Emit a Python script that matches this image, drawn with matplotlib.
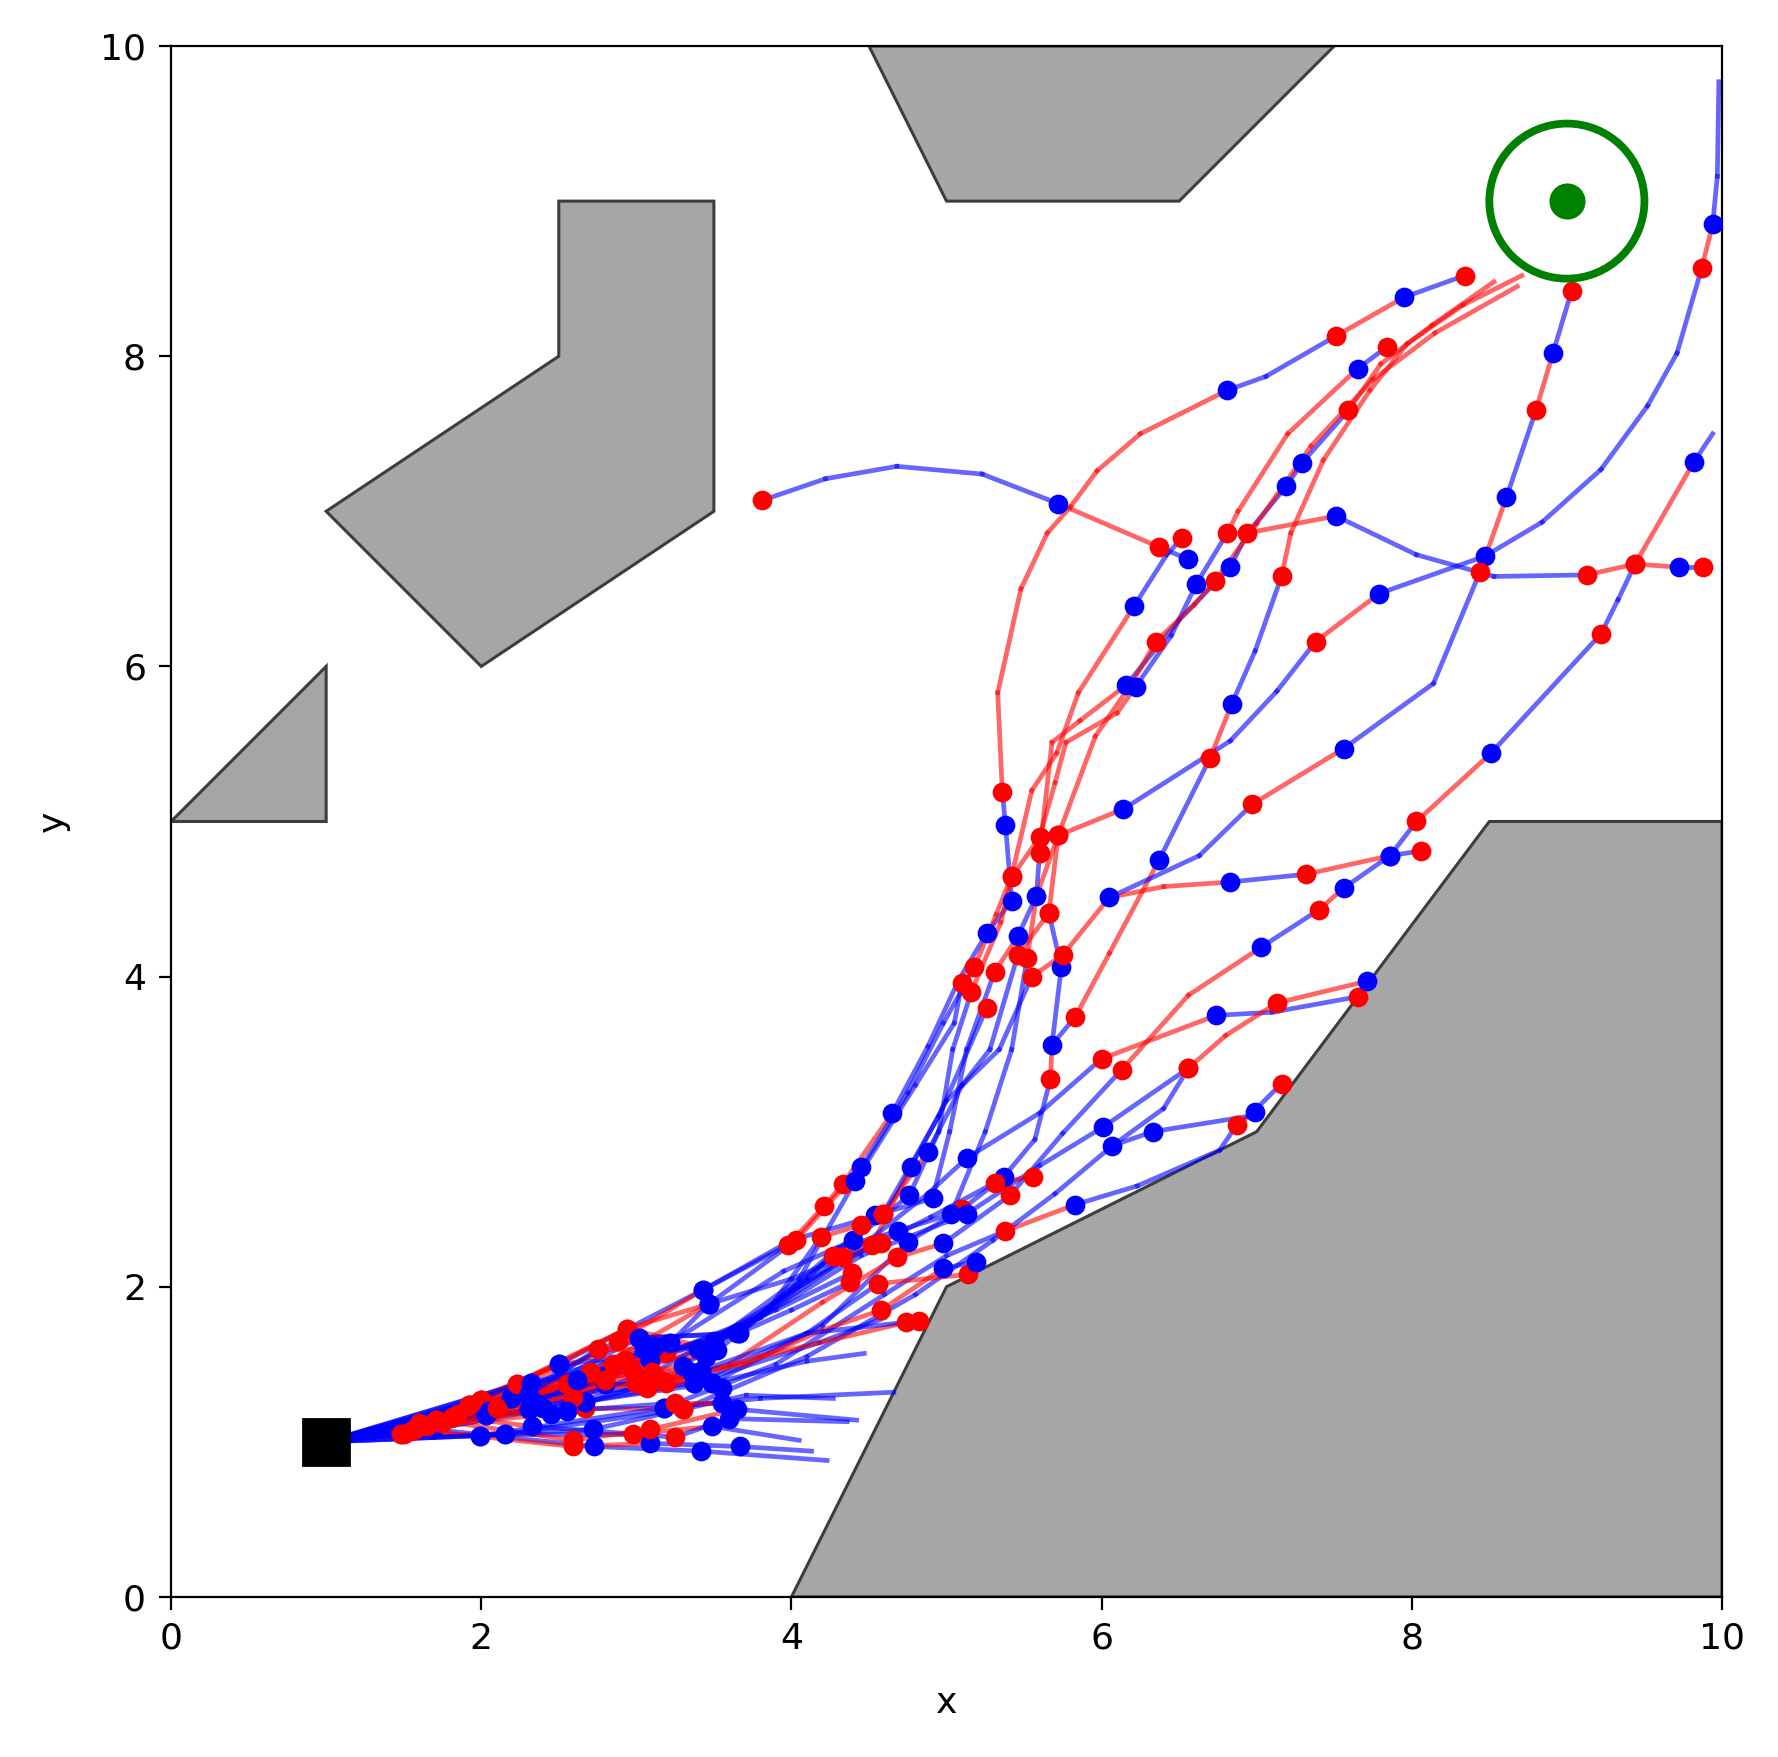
import matplotlib
matplotlib.use("Agg")
import matplotlib.pyplot as plt
from matplotlib.patches import Polygon, Circle

# ---------------- data ----------------
obstacle_top = [(4.5, 10), (5, 9), (6.5, 9), (7.5, 10)]
obstacle_hook = [(2.5, 9), (3.5, 9), (3.5, 7), (2, 6), (1, 7), (2.5, 8)]
obstacle_tri = [(0, 5), (1, 6), (1, 5)]
obstacle_low = [(4, 0), (5, 2), (7, 3), (8.5, 5), (10, 5), (10, 0)]

start_xy = (1.0, 1.0)
goal_xy = (9.0, 9.0)
goal_radius = 0.5

# each point: (x, y, code) ; code[0] = dot colour ('r','b','-' none), code[1] = colour of next segment
f1 = [(1, 1, '-b'), (1.69, 1.08, 'bb'), (2.73, 0.97, 'bb'), (3.42, 0.94, 'bb'), (4.23, 0.88, '-.')]
f2 = [(1, 1, '-b'), (1.57, 1.08, 'rr'), (2.59, 0.97, 'rr'), (3.09, 0.99, 'bb'), (3.67, 0.97, 'bb'), (4.13, 0.94, '-.')]
f3 = [(1, 1, '-b'), (1.48, 1.05, 'rr'), (2.15, 1.05, 'bb'), (2.98, 1.05, 'rr'), (3.49, 1.10, 'bb'), (4.05, 1.01, '-.')]
f4 = [(1, 1, '-b'), (1.82, 1.16, 'rr'), (2.33, 1.10, 'bb'), (3.25, 1.03, 'rb'), (3.60, 1.15, 'bb'), (4.36, 1.13, '-.')]
f5 = [(1, 1, '-b'), (1.71, 1.14, 'rr'), (2.59, 1.01, 'rr'), (3.09, 1.08, 'rr'), (3.65, 1.21, 'bb'), (4.42, 1.14, '-.')]
f6 = [(1, 1, '-b'), (1.99, 1.04, 'bb'), (2.72, 1.08, 'bb'), (3.30, 1.21, 'rb'), (3.71, 1.30, '-b'), (4.27, 1.28, '-.')]
f7 = [(1, 1, '-b'), (2.03, 1.17, 'bb'), (2.67, 1.22, 'rr'), (3.18, 1.22, 'bb'), (3.80, 1.28, '-b'), (4.66, 1.32, '-.')]
f8 = [(1, 1, '-b'), (1.92, 1.24, 'rr'), (2.80, 1.37, 'bb'), (3.49, 1.38, 'bb'), (4.10, 1.52, '-b'), (4.47, 1.57, '-.')]
f9 = [(1, 1, '-b'), (2.0, 1.27, 'rr'), (2.67, 1.26, 'bb'), (3.37, 1.38, 'bb'), (4.18, 1.64, '-b'), (4.60, 1.80, '-.')]

p01 = [(1, 1, '-b'), (1.57, 1.08, 'rr'), (2.50, 1.50, 'bb'), (3.43, 1.98, 'bb'), (3.98, 2.27, 'rr'),
       (4.21, 2.52, 'rr'), (4.33, 2.66, 'rr'), (4.65, 3.12, 'bb'), (4.88, 3.55, '-b'), (5.08, 3.98, '-b'),
       (5.26, 4.28, 'bb'), (5.42, 4.49, 'bb'), (5.38, 4.98, 'bb'), (5.36, 5.19, 'rr'), (5.33, 5.83, '-r'),
       (5.48, 6.50, '-r'), (5.65, 6.86, '-r'), (5.80, 7.03, '-r'), (5.97, 7.26, '-r'), (6.25, 7.50, '-r'),
       (6.81, 7.78, 'bb'), (7.06, 7.87, '-b'), (7.51, 8.13, 'rr'), (7.95, 8.38, 'bb'), (8.34, 8.52, 'r.')]
p02 = [(5.72, 7.05, 'bb'), (5.23, 7.24, '-b'), (4.68, 7.29, '-b'), (4.22, 7.21, '-b'), (3.81, 7.07, 'r.')]
p03 = [(5.72, 7.05, '-r'), (6.37, 6.77, 'rb'), (6.56, 6.69, 'b.')]
p04 = [(1, 1, '-b'), (1.71, 1.14, 'rr'), (2.70, 1.45, 'rr'), (3.47, 1.89, 'bb'), (4.03, 2.30, 'rr'),
       (4.45, 2.77, 'bb'), (4.75, 3.25, '-b'), (4.98, 3.70, '-b'), (5.18, 4.06, 'rr'), (5.32, 4.40, '-r'),
       (5.42, 4.65, 'rr'), (5.55, 5.20, '-r'), (5.71, 5.44, '-r'), (5.85, 5.83, '-r'), (6.21, 6.39, 'bb'),
       (6.42, 6.72, '-b'), (6.52, 6.83, 'r.')]
p05 = [(1, 1, '-b'), (1.48, 1.05, 'rr'), (2.32, 1.38, 'bb'), (3.22, 1.64, 'bb'), (3.95, 2.10, '-b'),
       (4.40, 2.30, 'bb'), (4.76, 2.59, 'bb'), (4.95, 3.00, '-b'), (5.04, 3.53, '-b'), (5.16, 3.90, 'rr'),
       (5.35, 4.35, '-r'), (5.42, 4.64, 'rr'), (5.60, 4.90, 'rr'), (5.70, 5.25, '-r'), (5.77, 5.51, '-r'),
       (6.10, 5.70, '-r'), (6.22, 5.87, 'bb'), (6.45, 6.20, '-b'), (6.61, 6.53, 'bb'), (6.81, 6.86, 'rr'),
       (6.88, 7.00, '-r'), (7.20, 7.50, '-r'), (7.65, 7.92, 'bb'), (7.84, 8.06, 'r.')]
p06 = [(1, 1, '-b'), (1.82, 1.16, 'rr'), (2.80, 1.40, 'rr'), (3.50, 1.62, 'bb'), (4.10, 2.05, '-b'),
       (4.54, 2.46, 'bb'), (4.91, 2.57, 'bb'), (5.02, 3.00, '-b'), (5.13, 3.53, '-b'), (5.31, 4.03, 'rr'),
       (5.46, 4.26, 'bb'), (5.58, 4.52, 'bb'), (5.60, 4.80, 'rr'), (5.68, 5.51, '-r'), (5.86, 5.65, '-r'),
       (6.16, 5.88, 'bb'), (6.50, 6.30, '-b'), (6.83, 6.64, 'bb'), (6.94, 6.86, 'rb'), (7.19, 7.16, 'bb'),
       (7.29, 7.31, 'bb'), (7.59, 7.65, 'rr'), (7.80, 7.95, '-r'), (8.13, 8.20, '-r'), (8.53, 8.48, '-.')]
p07 = [(6.94, 6.86, '-r'), (7.51, 6.97, 'bb'), (8.03, 6.72, '-b'), (8.53, 6.58, '-b'), (9.13, 6.59, 'rr'),
       (9.44, 6.66, 'rr'), (9.72, 6.64, 'bb'), (9.88, 6.64, 'r.')]
p08 = [(1, 1, '-b'), (1.92, 1.24, 'rr'), (2.93, 1.53, 'rr'), (3.65, 1.70, 'bb'), (4.27, 2.20, 'rr'),
       (4.59, 2.47, 'rr'), (4.88, 2.87, 'bb'), (5.10, 3.30, '-b'), (5.28, 3.53, '-b'), (5.46, 4.14, 'rr'),
       (5.66, 4.41, 'rr'), (5.72, 4.91, 'rr'), (5.96, 5.55, '-r'), (6.20, 5.90, '-r'), (6.35, 6.16, 'rr'),
       (6.60, 6.40, '-r'), (6.73, 6.55, 'rr'), (7.00, 6.92, '-r'), (7.35, 7.42, '-r'), (7.75, 7.85, '-r'),
       (8.15, 8.15, '-r'), (8.68, 8.45, '-.')]
p09 = [(1, 1, '-b'), (1.69, 1.08, 'bb'), (2.67, 1.26, 'bb'), (3.49, 1.38, 'bb'), (4.20, 1.75, '-b'),
       (4.75, 2.29, 'bb'), (5.10, 2.50, 'rb'), (5.37, 2.71, 'bb'), (5.57, 2.95, '-b'), (5.67, 3.34, 'rr'),
       (5.68, 3.56, 'bb'), (5.83, 3.74, 'rr'), (6.05, 4.15, '-r'), (6.37, 4.75, 'bb'), (6.70, 5.41, 'rr'),
       (6.84, 5.76, 'bb'), (6.99, 6.10, '-b'), (7.16, 6.58, 'rr'), (7.22, 6.86, '-r'), (7.43, 7.33, '-r'),
       (7.73, 7.78, '-r'), (7.97, 8.08, '-r'), (8.33, 8.33, '-r'), (8.71, 8.52, '-.')]
p10 = [(5.68, 3.56, '-b'), (5.74, 4.06, 'bb'), (5.66, 4.41, 'r.')]
p11 = [(1, 1, '-b'), (2.03, 1.17, 'bb'), (3.02, 1.67, 'bb'), (3.66, 1.70, 'bb'), (4.30, 2.25, '-b'),
       (4.69, 2.36, 'bb'), (5.03, 2.47, 'bb'), (5.25, 3.00, '-b'), (5.42, 3.53, '-b'), (5.52, 4.12, 'rr'),
       (5.58, 4.52, '-r'), (5.72, 4.91, 'rr'), (6.14, 5.08, 'bb'), (6.83, 5.52, '-b'), (7.13, 5.84, '-b'),
       (7.38, 6.16, 'rr'), (7.79, 6.47, 'bb'), (8.47, 6.71, 'bb'), (8.84, 6.93, '-b'), (9.22, 7.27, '-b'),
       (9.52, 7.68, '-b'), (9.71, 8.02, '-b'), (9.87, 8.57, 'rr'), (9.94, 8.85, 'bb'), (9.97, 9.16, '-b'),
       (9.98, 9.77, '-.')]
p12 = [(1, 1, '-b'), (2.23, 1.37, 'rr'), (2.94, 1.73, 'rr'), (3.52, 1.59, 'bb'), (4.05, 2.00, '-b'),
       (4.52, 2.27, 'rr'), (4.77, 2.77, 'bb'), (5.00, 3.20, '-b'), (5.34, 3.53, '-b'), (5.55, 4.00, 'rr'),
       (5.75, 4.14, 'rr'), (6.05, 4.51, 'bb'), (6.63, 4.78, '-b'), (6.97, 5.11, 'rr'), (7.56, 5.47, 'bb'),
       (8.14, 5.89, '-b'), (8.44, 6.61, 'rr'), (8.61, 7.09, 'bb'), (8.80, 7.65, 'rr'), (8.91, 8.02, 'bb'),
       (9.03, 8.42, 'r.')]
p13 = [(6.05, 4.51, '-r'), (6.40, 4.58, '-r'), (6.83, 4.61, 'bb'), (7.32, 4.66, 'rr'), (7.86, 4.78, 'bb'),
       (8.06, 4.81, 'r.')]
p14 = [(1, 1, '-b'), (2.19, 1.28, 'bb'), (3.07, 1.35, 'rr'), (3.60, 1.50, '-r'), (4.20, 1.90, '-r'),
       (4.68, 2.19, 'rr'), (4.98, 2.28, 'bb'), (5.41, 2.59, 'rb'), (5.75, 2.99, '-b'), (6.13, 3.40, 'rr'),
       (6.56, 3.88, '-r'), (7.03, 4.19, 'bb'), (7.40, 4.43, 'rr'), (7.56, 4.57, 'bb'), (7.86, 4.78, 'bb'),
       (8.03, 5.00, 'rr'), (8.51, 5.44, 'bb'), (9.22, 6.21, 'rb'), (9.33, 6.43, '-b'), (9.44, 6.66, 'rr'),
       (9.82, 7.32, 'bb'), (9.94, 7.50, '-.')]
p15 = [(1, 1, '-b'), (2.0, 1.27, 'rr'), (3.0, 1.38, 'rb'), (3.90, 1.90, '-b'), (4.50, 2.30, '-b'),
       (4.88, 2.60, '-b'), (5.13, 2.83, 'bb'), (5.60, 3.12, '-b'), (6.00, 3.47, 'rr'), (6.74, 3.75, 'bb'),
       (7.10, 3.77, '-b'), (7.65, 3.87, 'r.')]
p16 = [(1, 1, '-b'), (2.31, 1.21, 'bb'), (3.09, 1.53, 'bb'), (3.80, 1.80, '-b'), (4.45, 2.20, '-b'),
       (5.13, 2.47, 'bb'), (5.60, 2.78, '-b'), (6.01, 3.03, 'bb'), (6.56, 3.41, 'rr'), (6.80, 3.62, '-r'),
       (7.13, 3.83, 'rr'), (7.71, 3.97, 'b.')]
p17 = [(1, 1, '-b'), (1.99, 1.04, 'bb'), (3.18, 1.22, 'bb'), (3.90, 1.50, '-b'), (4.60, 1.95, '-b'),
       (5.00, 2.20, '-b'), (5.38, 2.36, 'rr'), (5.83, 2.53, 'bb'), (6.23, 2.65, '-b'), (6.76, 2.88, '-b'),
       (6.87, 3.04, 'rr'), (6.99, 3.13, 'b.')]
p18 = [(1, 1, '-b'), (2.15, 1.05, 'bb'), (3.30, 1.21, 'rb'), (4.10, 1.55, '-b'), (4.80, 1.95, '-b'),
       (5.30, 2.30, '-b'), (5.70, 2.60, '-b'), (6.07, 2.91, 'bb'), (6.33, 3.00, 'bb'), (6.95, 3.10, '-b'),
       (7.16, 3.31, 'r.')]
p19 = [(6.07, 2.91, '-b'), (6.40, 3.15, '-b'), (6.56, 3.41, 'r.')]
p20 = [(1, 1, '-b'), (2.55, 1.37, 'rr'), (3.37, 1.38, 'bb'), (4.10, 1.70, '-b'), (4.56, 2.02, 'rr'),
       (5.14, 2.08, 'r.')]
p21 = [(1, 1, '-b'), (1.82, 1.16, 'rr'), (3.00, 1.38, 'rr'), (3.70, 1.50, '-r'), (4.20, 1.72, '-r'),
       (4.58, 1.85, 'rr'), (4.98, 2.12, 'bb'), (5.19, 2.16, 'b.')]
p22 = [(1, 1, '-b'), (2.31, 1.21, 'bb'), (3.19, 1.38, 'rr'), (3.80, 1.55, '-r'), (4.74, 1.77, 'r.')]
p23 = [(1, 1, '-b'), (1.69, 1.08, 'bb'), (2.80, 1.40, 'rr'), (3.42, 1.46, 'bb'), (4.10, 1.70, '-b'),
       (4.82, 1.78, 'r.')]
e1 = [(1, 1, '-b'), (1.60, 1.10, 'rr'), (2.70, 1.45, 'rr'), (3.50, 1.65, 'bb'), (4.05, 2.05, '-b'),
      (4.41, 2.68, 'bb'), (4.80, 3.30, '-b'), (5.05, 3.70, '-b'), (5.10, 3.96, 'r.')]
e2 = [(1, 1, '-b'), (2.19, 1.28, 'bb'), (2.88, 1.65, 'rr'), (3.43, 1.98, 'bb'), (4.00, 2.30, '-b'),
      (4.59, 2.47, 'rb'), (4.95, 3.10, '-b'), (5.26, 3.80, 'r.')]
e3 = [(1, 1, '-b'), (1.50, 1.05, 'rr'), (2.55, 1.37, 'rr'), (3.30, 1.49, 'bb'), (3.85, 1.85, '-b'),
      (4.19, 2.32, 'rr'), (4.45, 2.40, 'r.')]
e4 = [(1, 1, '-b'), (2.00, 1.27, 'rr'), (2.94, 1.73, 'rr'), (3.47, 1.89, 'bb'), (4.00, 2.05, '-b'),
      (4.33, 2.19, 'rr'), (4.58, 2.28, 'r.')]
e5 = [(1, 1, '-b'), (1.60, 1.12, 'rr'), (2.50, 1.50, 'bb'), (3.19, 1.57, 'rb'), (3.90, 1.85, '-b'),
      (4.39, 2.09, 'r.')]
e6 = [(1, 1, '-b'), (2.23, 1.37, 'rr'), (3.02, 1.67, 'bb'), (3.66, 1.70, 'bb'), (4.00, 1.85, '-b'),
      (4.38, 2.03, 'r.')]
e7 = [(1, 1, '-b'), (2.32, 1.38, 'bb'), (3.09, 1.53, 'bb'), (3.65, 1.70, '-b'), (4.30, 2.15, '-b'),
      (4.90, 2.45, '-b'), (5.31, 2.67, 'rr'), (5.56, 2.71, 'r.')]
e8 = [(1, 1, '-b'), (1.82, 1.16, 'rr'), (2.59, 1.29, 'rr'), (3.22, 1.64, 'bb'), (3.47, 1.89, 'b.')]
e9 = [(1, 1, '-b'), (1.92, 1.24, 'rr'), (2.98, 1.46, 'rr'), (3.42, 1.46, 'b.')]
e10 = [(1, 1, '-b'), (1.55, 1.07, 'rr'), (2.40, 1.22, 'bb'), (3.10, 1.45, 'rr'), (3.55, 1.35, 'b.')]
e11 = [(1, 1, '-b'), (1.75, 1.12, 'rr'), (2.35, 1.25, 'bb'), (2.85, 1.50, 'rr'), (3.45, 1.55, 'b.')]
e12 = [(1, 1, '-b'), (1.65, 1.10, 'rr'), (2.45, 1.18, 'bb'), (3.15, 1.40, 'rr'), (3.35, 1.45, 'b.')]
e13 = [(1, 1, '-b'), (2.05, 1.20, 'bb'), (2.30, 1.30, 'bb'), (2.75, 1.60, 'rr'), (3.05, 1.60, 'b.')]
e14 = [(1, 1, '-b'), (1.85, 1.18, 'rr'), (2.55, 1.20, 'bb'), (3.25, 1.25, 'rr'), (3.55, 1.25, 'b.')]
e15 = [(1, 1, '-b'), (2.10, 1.22, 'rr'), (2.62, 1.40, 'bb'), (3.12, 1.62, 'bb'), (3.40, 1.60, 'b.')]

paths = [f1, f2, f3, f4, f5, f6, f7, f8, f9,
         p01, p02, p03, p04, p05, p06, p07, p08, p09, p10, p11, p12, p13, p14, p15, p16,
         p17, p18, p19, p20, p21, p22, p23,
         e1, e2, e3, e4, e5, e6, e7, e8, e9, e10, e11, e12, e13, e14, e15]

# ---------------- drawing ----------------
colour = {'r': 'red', 'b': 'blue'}

plt.rcParams['font.size'] = 13
plt.rcParams['xtick.major.size'] = 4.5
plt.rcParams['ytick.major.size'] = 4.5
plt.rcParams['xtick.major.pad'] = 4.5
plt.rcParams['ytick.major.pad'] = 4.5

fig = plt.figure(figsize=(8.89, 8.785), dpi=200)
ax = fig.add_axes([0.0962, 0.0911, 0.8723, 0.8827])

for poly in (obstacle_top, obstacle_hook, obstacle_tri, obstacle_low):
    ax.add_patch(Polygon(poly, closed=True, facecolor='#a6a6a6', edgecolor='#3d3d3d',
                         linewidth=1.1, zorder=1))

for path in paths:
    for (x0, y0, c0), (x1, y1, c1) in zip(path[:-1], path[1:]):
        ax.plot([x0, x1], [y0, y1], color=colour[c0[1]], alpha=0.6, linewidth=1.7, zorder=2)

for path in paths:
    for (x, y, c) in path:
        if c[0] in colour:
            ax.plot(x, y, 'o', color=colour[c[0]], markersize=6.6, markeredgewidth=0.5, zorder=3)

ax.plot(*start_xy, 's', color='black', markersize=16.5, zorder=4)
ax.add_patch(Circle(goal_xy, goal_radius, fill=False, edgecolor='green', linewidth=2.8, zorder=4))
ax.plot(*goal_xy, 'o', color='green', markersize=12, zorder=4)

ax.set_xlim(0, 10)
ax.set_ylim(0, 10)
ax.set_aspect('equal')
ax.set_xticks([0, 2, 4, 6, 8, 10])
ax.set_yticks([0, 2, 4, 6, 8, 10])
ax.set_xlabel('x', labelpad=11)
ax.set_ylabel('y', labelpad=11)

fig.savefig('out.png', dpi=200)
